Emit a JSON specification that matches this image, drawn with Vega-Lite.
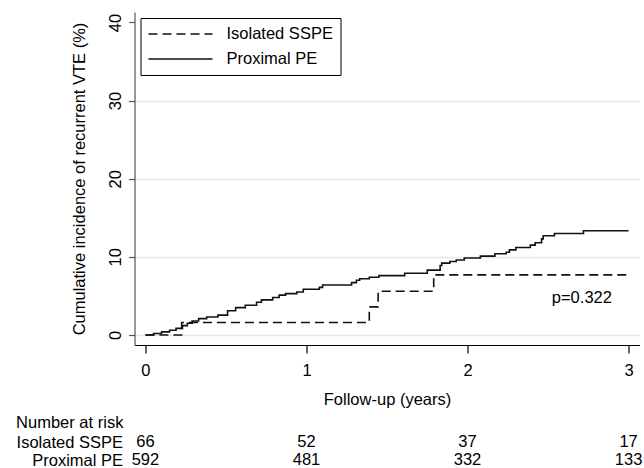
{
  "$schema": "https://vega.github.io/schema/vega-lite/v6.json",
  "padding": {"left": 15.5, "top": 12, "right": 0, "bottom": 0},
  "background": "white",
  "datasets": {
    "curves": [
      {"group": "Isolated SSPE", "t": 0, "v": 0},
      {"group": "Isolated SSPE", "t": 0.225, "v": 1.6},
      {"group": "Isolated SSPE", "t": 1.39, "v": 3.6},
      {"group": "Isolated SSPE", "t": 1.445, "v": 5.6},
      {"group": "Isolated SSPE", "t": 1.79, "v": 7.7},
      {"group": "Isolated SSPE", "t": 3.0, "v": 7.7},
      {"group": "Proximal PE", "t": 0, "v": 0},
      {"group": "Proximal PE", "t": 0.05, "v": 0.2},
      {"group": "Proximal PE", "t": 0.1, "v": 0.4},
      {"group": "Proximal PE", "t": 0.15, "v": 0.6},
      {"group": "Proximal PE", "t": 0.19, "v": 0.85},
      {"group": "Proximal PE", "t": 0.23, "v": 1.2},
      {"group": "Proximal PE", "t": 0.26, "v": 1.5},
      {"group": "Proximal PE", "t": 0.29, "v": 1.8},
      {"group": "Proximal PE", "t": 0.33, "v": 2.1},
      {"group": "Proximal PE", "t": 0.38, "v": 2.3},
      {"group": "Proximal PE", "t": 0.45, "v": 2.55},
      {"group": "Proximal PE", "t": 0.51, "v": 3.1},
      {"group": "Proximal PE", "t": 0.56, "v": 3.5},
      {"group": "Proximal PE", "t": 0.62, "v": 3.8},
      {"group": "Proximal PE", "t": 0.69, "v": 4.2},
      {"group": "Proximal PE", "t": 0.72, "v": 4.5},
      {"group": "Proximal PE", "t": 0.79, "v": 4.8},
      {"group": "Proximal PE", "t": 0.83, "v": 5.1},
      {"group": "Proximal PE", "t": 0.87, "v": 5.3},
      {"group": "Proximal PE", "t": 0.94, "v": 5.5},
      {"group": "Proximal PE", "t": 0.98, "v": 5.85},
      {"group": "Proximal PE", "t": 1.08, "v": 6.1},
      {"group": "Proximal PE", "t": 1.1, "v": 6.4},
      {"group": "Proximal PE", "t": 1.28, "v": 6.7},
      {"group": "Proximal PE", "t": 1.31, "v": 7.0},
      {"group": "Proximal PE", "t": 1.33, "v": 7.2},
      {"group": "Proximal PE", "t": 1.39, "v": 7.4},
      {"group": "Proximal PE", "t": 1.45, "v": 7.6},
      {"group": "Proximal PE", "t": 1.61, "v": 7.9},
      {"group": "Proximal PE", "t": 1.75, "v": 8.3},
      {"group": "Proximal PE", "t": 1.83, "v": 8.9},
      {"group": "Proximal PE", "t": 1.84, "v": 9.2},
      {"group": "Proximal PE", "t": 1.89, "v": 9.4},
      {"group": "Proximal PE", "t": 1.93, "v": 9.6},
      {"group": "Proximal PE", "t": 1.98, "v": 9.85},
      {"group": "Proximal PE", "t": 2.08, "v": 10.1},
      {"group": "Proximal PE", "t": 2.17, "v": 10.4},
      {"group": "Proximal PE", "t": 2.24, "v": 10.6},
      {"group": "Proximal PE", "t": 2.26, "v": 10.9},
      {"group": "Proximal PE", "t": 2.3, "v": 11.2},
      {"group": "Proximal PE", "t": 2.39, "v": 11.5},
      {"group": "Proximal PE", "t": 2.42, "v": 11.8},
      {"group": "Proximal PE", "t": 2.46, "v": 12.3},
      {"group": "Proximal PE", "t": 2.47, "v": 12.7},
      {"group": "Proximal PE", "t": 2.54, "v": 13.0},
      {"group": "Proximal PE", "t": 2.72, "v": 13.35},
      {"group": "Proximal PE", "t": 3.0, "v": 13.35}
    ],
    "risk": [
      {"group": "Isolated SSPE", "t": 0, "n": 66},
      {"group": "Isolated SSPE", "t": 1, "n": 52},
      {"group": "Isolated SSPE", "t": 2, "n": 37},
      {"group": "Isolated SSPE", "t": 3, "n": 17},
      {"group": "Proximal PE", "t": 0, "n": 592},
      {"group": "Proximal PE", "t": 1, "n": 481},
      {"group": "Proximal PE", "t": 2, "n": 332},
      {"group": "Proximal PE", "t": 3, "n": 133}
    ],
    "annot": [
      {"t": 2.71, "v": 4.7, "label": "p=0.322"}
    ]
  },
  "spacing": 6,
  "vconcat": [
    {
      "width": 505,
      "height": 333,
      "layer": [
        {
          "data": {"name": "curves"},
          "mark": {"type": "line", "interpolate": "step-after", "strokeWidth": 1.6, "color": "#111111"},
          "encoding": {
            "x": {
              "field": "t", "type": "quantitative",
              "scale": {"domain": [-0.068, 3.068], "nice": false, "zero": false},
              "axis": {
                "values": [0, 1, 2, 3], "format": "d", "grid": false,
                "title": "Follow-up (years)", "titlePadding": 13,
                "tickSize": 8, "labelPadding": 9,
                "domainColor": "#000000", "tickColor": "#000000"
              }
            },
            "y": {
              "field": "v", "type": "quantitative",
              "scale": {"domain": [-1.28, 41.34], "nice": false, "zero": false},
              "axis": {
                "values": [0, 10, 20, 30, 40], "format": "d",
                "title": "Cumulative incidence of recurrent VTE (%)",
                "titlePadding": 20,
                "labelAngle": 270, "labelAlign": "center", "labelBaseline": "bottom",
                "tickSize": 6, "labelPadding": 5,
                "domainColor": "#555555", "tickColor": "#555555",
                "grid": true, "gridWidth": 1.5,
                "gridColor": {"condition": {"test": "datum.value === 40", "value": "transparent"}, "value": "#e6e6e6"}
              }
            },
            "strokeDash": {
              "field": "group", "type": "nominal",
              "scale": {"domain": ["Isolated SSPE", "Proximal PE"], "range": [[9, 5], [1, 0]]},
              "legend": {
                "title": null, "orient": "none", "legendX": 6, "legendY": 6,
                "direction": "vertical",
                "strokeColor": "#000000", "fillColor": "#ffffff", "padding": 7,
                "symbolType": "M-1,0H7", "symbolSize": 256, "symbolStrokeWidth": 1.6,
                "symbolStrokeColor": "#111111", "symbolFillColor": "transparent",
                "labelFontSize": 16.5, "labelColor": "#000000", "labelOffset": 61,
                "rowPadding": 7
              }
            }
          }
        },
        {
          "data": {"name": "annot"},
          "mark": {"type": "text", "fontSize": 16.5, "color": "#000000", "align": "center", "baseline": "middle"},
          "encoding": {
            "x": {"field": "t", "type": "quantitative"},
            "y": {"field": "v", "type": "quantitative"},
            "text": {"field": "label"}
          }
        }
      ]
    },
    {
      "width": 505,
      "height": 36,
      "title": {
        "text": "Number at risk", "anchor": "start", "frame": "bounds",
        "fontSize": 16.5, "fontWeight": "normal", "color": "#000000", "offset": 2
      },
      "data": {"name": "risk"},
      "mark": {"type": "text", "fontSize": 16.5, "color": "#000000", "align": "center", "baseline": "middle"},
      "encoding": {
        "x": {
          "field": "t", "type": "quantitative",
          "scale": {"domain": [-0.068, 3.068], "nice": false, "zero": false},
          "axis": null
        },
        "y": {
          "field": "group", "type": "nominal",
          "sort": ["Isolated SSPE", "Proximal PE"],
          "axis": {"title": null, "domain": false, "ticks": false, "labelPadding": 12, "labelFontSize": 16.5, "labelColor": "#000000"}
        },
        "text": {"field": "n", "type": "quantitative"}
      }
    }
  ],
  "config": {
    "view": {"stroke": null},
    "font": "Liberation Sans",
    "axis": {
      "labelFontSize": 16.5, "titleFontSize": 16.5, "titleFontWeight": "normal",
      "labelColor": "#000000", "titleColor": "#000000", "domainWidth": 1.2, "tickWidth": 1.2
    },
    "legend": {"labelFont": "Liberation Sans"},
    "title": {"font": "Liberation Sans"}
  }
}
